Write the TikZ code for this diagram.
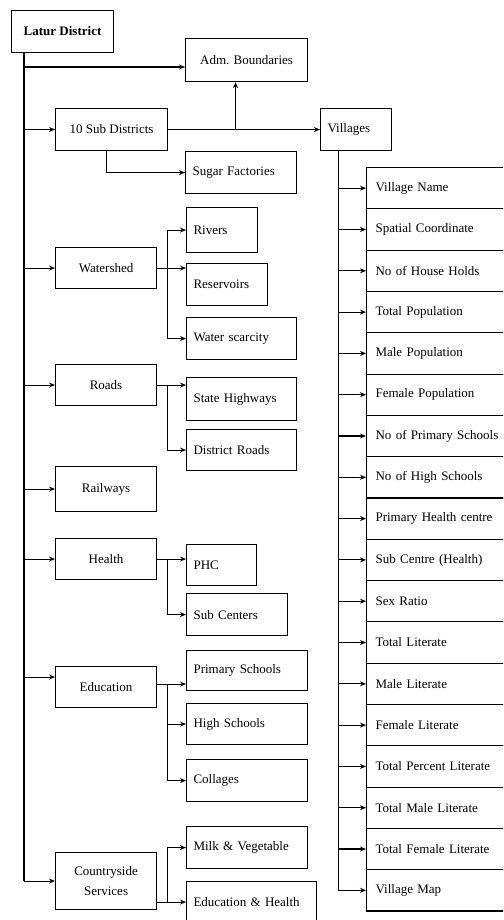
\documentclass[tikz,border=0pt]{standalone}
\usepackage{fontspec}
\setmainfont{Liberation Serif}
\usetikzlibrary{arrows.meta}
\tikzset{
  cbox/.style={draw, anchor=north west, align=center, minimum width=#1, minimum height=42pt, inner sep=2pt, font=\fontsize{13}{15}\selectfont},
  lbox/.style={draw, anchor=north west, align=left, text width=#1-14pt, inner xsep=7pt, minimum height=42pt, font=\fontsize{13}{15}\selectfont},
}
\begin{document}
\begin{tikzpicture}[x=1pt, y=-1pt, line width=1.1pt, >={Stealth[length=6pt,width=5pt]}]
        \useasboundingbox (0,0) rectangle (503,920);
        \clip (0,0) rectangle (503,920);

        % left column
        \node[cbox=102, font=\bfseries\fontsize{13}{15}\selectfont] (latur) at (11,10) {Latur District};
        \node[cbox=122, minimum height=43pt] (adm) at (185,38) {Adm. Boundaries};
        \node[cbox=112] (subdist) at (55,108) {10 Sub Districts};
        \node[lbox=111] (sugar) at (185,151) {Sugar Factories};
        \node[lbox=71] (villages) at (320,108) {Villages};
        \node[cbox=101, minimum height=41pt] (watershed) at (55,247) {Watershed};
        \node[lbox=71, minimum height=45pt] (rivers) at (186,207) {Rivers};
        \node[lbox=81] (reservoirs) at (186,263) {Reservoirs};
        \node[lbox=110] (scarcity) at (186,317) {Water scarcity};
        \node[cbox=101, minimum height=41pt] (roads) at (55,364) {Roads};
        \node[lbox=110, minimum height=43pt] (highways) at (186,377) {State Highways};
        \node[lbox=110, minimum height=41pt] (distroads) at (186,429) {District Roads};
        \node[cbox=101, minimum height=45pt] (railways) at (55,466) {Railways};
        \node[cbox=101, minimum height=41pt] (health) at (55,538) {Health};
        \node[lbox=70, minimum height=41pt] (phc) at (186,544) {PHC};
        \node[lbox=101] (subcentres) at (186,593) {Sub Centers};
        \node[cbox=101, minimum height=41pt] (education) at (55,666) {Education};
        \node[lbox=121, minimum height=40pt] (primary) at (186,650) {Primary Schools};
        \node[lbox=121, minimum height=41pt] (high) at (186,703) {High Schools};
        \node[lbox=121] (collages) at (186,759) {Collages};
        \node[cbox=101, minimum height=57pt] (countryside) at (55,852) {Countryside\\[5pt]Services};
        \node[lbox=121] (milk) at (186,826) {Milk \& Vegetable};
        \node[lbox=130, minimum height=41pt] (eduhealth) at (186,881) {Education \& Health};

        % trunk
        \coordinate (trunk) at ([xshift=13pt]latur.south west);
        \draw (trunk) -- (trunk |- countryside.west);
        \coordinate (admin) at ([yshift=-7pt]adm.west);
        \draw[->] (trunk |- admin) -- (admin);
        \foreach \b in {subdist, watershed, roads, railways, health, countryside}
          \draw[->] (trunk |- \b.west) -- (\b.west);
        \coordinate (eduin) at ([yshift=10pt]education.west);
        \draw[->] (trunk |- eduin) -- (eduin);

        % sub districts
        \draw[->] (subdist.east) -- (villages.west);
        \coordinate (up) at ([xshift=-11pt]adm.south);
        \draw[->] (up |- subdist.east) -- (up);
        \draw[->] ([xshift=-5pt]subdist.south) |- (sugar.west);

        % watershed
        \coordinate (wsplit) at ([xshift=10pt]watershed.east);
        \draw[->] (watershed.east) -- (watershed.east -| reservoirs.west);
        \draw[->] (wsplit) |- (rivers.west);
        \draw[->] (wsplit) |- (scarcity.west);

        % roads
        \draw[->] (roads.east) -- (roads.east -| highways.west);
        \draw[->] ([xshift=10pt]roads.east) |- (distroads.west);

        % health
        \draw[->] (health.east) -- (health.east -| phc.west);
        \draw[->] ([xshift=10pt]health.east) |- (subcentres.west);

        % education
        \coordinate (eout) at ([yshift=3pt]education.east);
        \coordinate (esplit) at ([xshift=10pt]eout);
        \draw[->] (eout) -- (eout -| primary.west);
        \draw[->] (esplit) |- (high.west);
        \draw[->] (esplit) |- (collages.west);

        % countryside services
        \coordinate (cout) at (countryside.east |- eduhealth.west);
        \coordinate (csplit) at ([xshift=10pt]cout);
        \draw[->] (cout) -- (eduhealth.west);
        \draw[->] (csplit) |- (milk.west);

        % village attributes
        \coordinate (vline) at ([xshift=-18pt]villages.south);
        \foreach \t [count=\i] in {Village Name, Spatial Coordinate, No of House Holds, Total Population,
            Male Population, Female Population, No of Primary Schools, No of High Schools,
            Primary Health centre, Sub Centre (Health), Sex Ratio, Total Literate, Male Literate,
            Female Literate, Total Percent Literate, Total Male Literate, Total Female Literate, Village Map} {
          \node[lbox=160, minimum height=41.3pt, inner xsep=9pt] (v\i) at (366, {167+41.3*(\i-1)}) {\t};
          \draw[->] (vline |- v\i.west) -- (v\i.west);
        }
        \draw (vline) -- (vline |- v18.west);
\end{tikzpicture}
\end{document}
